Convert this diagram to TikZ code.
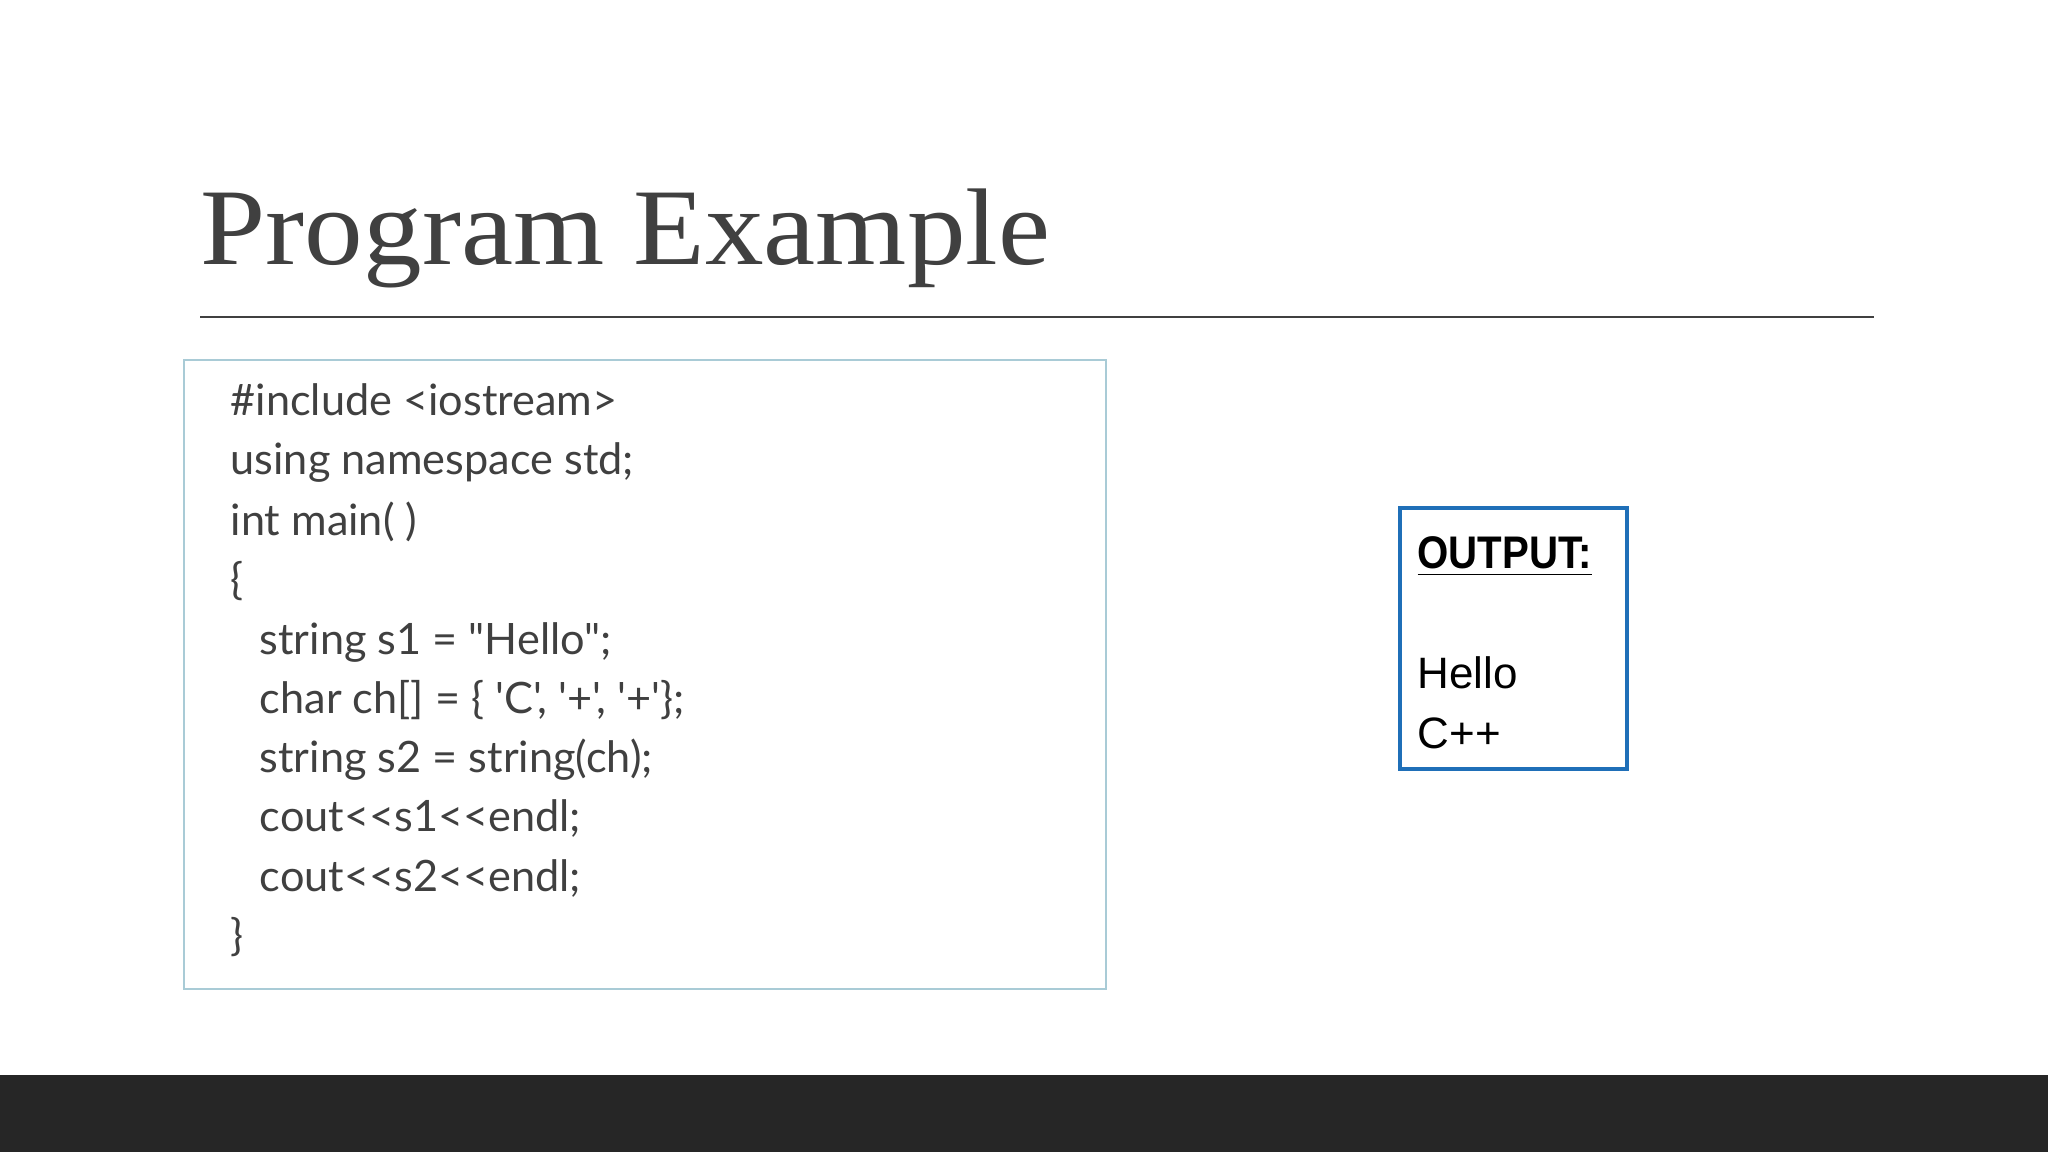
\documentclass[tikz,border=0pt]{standalone}
\usepackage{fontspec}
\setmainfont{Liberation Serif}
\newfontfamily\codefont{Lato}
\newfontfamily\outfont{Liberation Sans}
\definecolor{titlegray}{HTML}{404040}
\definecolor{boxline}{HTML}{A9CBD6}
\definecolor{outblue}{HTML}{1F6FB8}
\definecolor{barcol}{HTML}{262626}
\begin{document}
\begin{tikzpicture}[x=0.01cm,y=-0.01cm,
  codeline/.style={anchor=base west,inner sep=0pt,font=\codefont\fontsize{12.3}{14}\selectfont,text=titlegray},
  outline/.style={anchor=base west,inner sep=0pt,font=\outfont\fontsize{12.5}{14}\selectfont,text=black}]
\useasboundingbox[fill=white] (0,0) rectangle (2048,1152);
\fill[barcol] (0,1075) rectangle (2048,1152);
\node[anchor=base west,inner sep=0pt,text=titlegray,font=\fontsize{31}{36}\selectfont,xscale=1.075] (title) at (200,265) {Program Example};
\coordinate (l1) at (200,317); \coordinate (l2) at (1874,317);
\draw[titlegray,line width=0.6pt] (l1) -- (l2);
\draw[boxline,line width=0.6pt] (184,360) rectangle (1106,989);
\node[codeline] (c1) at (230,416) {\#include <iostream>};
\node[codeline] (c2) at (230,475) {using namespace std;};
\node[codeline] (c3) at (230,535) {int main( )};
\node[codeline] (c4) at (230,594) {\{};
\node[codeline] (c5) at (259,654) {string s1 = "Hello";};
\node[codeline] (c6) at (259,713) {char ch[] = \{ 'C', '+', '+'\};};
\node[codeline] (c7) at (259,772) {string s2 = string(ch);};
\node[codeline] (c8) at (259,831) {cout<{}<s1<{}<endl;};
\node[codeline] (c9) at (259,891) {cout<{}<s2<{}<endl;};
\node[codeline] (c10) at (230,950) {\}};
\draw[outblue,line width=1.2pt] (1400,508) rectangle (1627,769);
\node[outline,font=\outfont\bfseries\fontsize{13}{14}\selectfont,xscale=0.88] (o1) at (1417,569) {\underline{OUTPUT:}};
\node[outline] (o2) at (1417,688) {Hello};
\node[outline] (o3) at (1417,748) {C++};
\end{tikzpicture}
\end{document}
